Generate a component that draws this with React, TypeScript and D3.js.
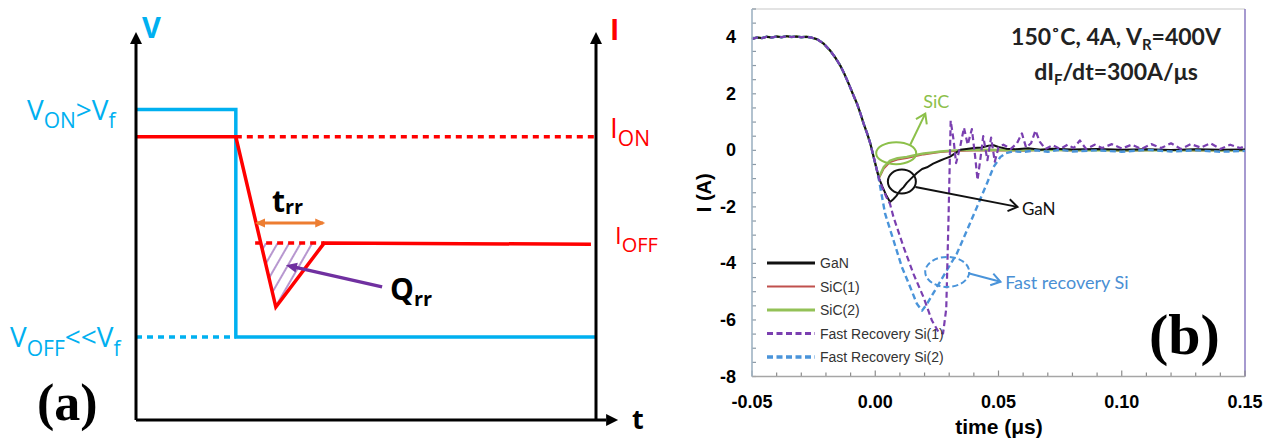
import React from 'react';
import * as d3 from 'd3';

type Pt = [number, number];

// ---------- panel (b): measured waveforms, [time (µs), current (A)] ----------
const commonFall: Pt[] = [
  [-0.05, 3.94], [-0.048, 3.99], [-0.046, 3.97], [-0.044, 4.02], [-0.042, 3.99], [-0.04, 4.03],
  [-0.038, 4.0], [-0.036, 4.04], [-0.034, 4.01], [-0.032, 4.03], [-0.03, 4.0], [-0.028, 4.02],
  [-0.026, 3.99], [-0.0236, 3.93], [-0.021, 3.78], [-0.0183, 3.53], [-0.0162, 3.28], [-0.0142, 3.0],
  [-0.0125, 2.7], [-0.0108, 2.36], [-0.0091, 2.0], [-0.0074, 1.65], [-0.006, 1.3], [-0.0047, 0.94],
  [-0.0033, 0.6], [-0.002, 0.24], [-0.0007, -0.22], [0.0007, -0.71],
];

const ganTail: Pt[] = [
  [0.0015, -0.98], [0.003, -1.3], [0.0045, -1.6], [0.006, -1.83], [0.0072, -1.74], [0.0085, -1.62],
  [0.0101, -1.42], [0.0115, -1.3], [0.0128, -1.15], [0.0145, -1.0], [0.0169, -0.8], [0.019, -0.66],
  [0.021, -0.6], [0.0235, -0.47], [0.0264, -0.36], [0.028, -0.3], [0.0304, -0.22], [0.0325, -0.1],
  [0.0345, 0.02], [0.037, 0.05], [0.04, 0.08], [0.043, 0.1], [0.046, 0.16], [0.048, 0.18],
  [0.05, 0.12], [0.053, 0.06], [0.057, 0.04], [0.062, 0.07], [0.067, 0.02], [0.072, 0.06],
  [0.08, 0.03], [0.09, 0.05], [0.1, 0.02], [0.11, 0.04], [0.12, 0.01], [0.13, 0.04], [0.14, 0.02], [0.15, 0.03],
];

const sic1Tail: Pt[] = [
  [0.0015, -1.0], [0.0035, -0.65], [0.006, -0.42], [0.009, -0.33], [0.0128, -0.28], [0.016, -0.22],
  [0.0196, -0.15], [0.0235, -0.1], [0.0264, -0.07], [0.032, -0.03], [0.04, -0.01], [0.05, 0.0],
  [0.06, -0.02], [0.07, 0.01], [0.08, -0.01], [0.09, 0.01], [0.1, -0.02], [0.11, 0.0], [0.12, 0.01],
  [0.13, -0.01], [0.14, 0.0], [0.15, 0.0],
];

const sic2Tail: Pt[] = [
  [0.0015, -0.95], [0.0035, -0.58], [0.006, -0.36], [0.009, -0.28], [0.0128, -0.23], [0.016, -0.17],
  [0.0196, -0.11], [0.0235, -0.07], [0.0264, -0.04], [0.032, 0.0], [0.04, 0.02], [0.05, 0.01],
  [0.06, 0.0], [0.07, 0.02], [0.08, 0.0], [0.09, 0.01], [0.1, -0.01], [0.11, 0.01], [0.12, 0.0],
  [0.13, 0.01], [0.14, -0.01], [0.15, 0.0],
];

const fr1Tail: Pt[] = [
  [0.0015, -1.0], [0.003, -1.35], [0.0045, -1.65], [0.006, -1.9], [0.0074, -2.36], [0.0115, -3.42],
  [0.0155, -4.37], [0.0196, -5.2], [0.023, -6.02], [0.0257, -6.43], [0.0275, -6.48], [0.0288, -5.6],
  [0.0297, -2.5], [0.0306, 1.05], [0.0318, 0.35], [0.0328, -0.45], [0.0345, 0.15], [0.036, 0.8],
  [0.0375, 0.2], [0.0392, 0.75], [0.0405, -0.2], [0.0415, -1.05], [0.0428, -0.2], [0.0438, 0.5],
  [0.0455, -0.35], [0.047, 0.45], [0.0485, -0.4], [0.05, 0.1], [0.052, 0.2], [0.055, 0.05],
  [0.0575, 0.25], [0.0595, 0.6], [0.0612, 0.1], [0.0632, 0.25], [0.065, 0.7], [0.0668, 0.3],
  [0.069, 0.05], [0.072, 0.18], [0.075, 0.05], [0.078, 0.2], [0.0805, 0.08], [0.083, 0.35],
  [0.0855, 0.05], [0.089, 0.2], [0.092, 0.08], [0.096, 0.22], [0.1, 0.06], [0.104, 0.2],
  [0.108, 0.05], [0.112, 0.22], [0.116, 0.08], [0.12, 0.25], [0.124, 0.05], [0.128, 0.22],
  [0.132, 0.1], [0.136, 0.25], [0.14, 0.05], [0.144, 0.2], [0.148, 0.08], [0.15, 0.15],
];

const fr2Tail: Pt[] = [
  [0.0015, -1.05], [0.004, -2.24], [0.0074, -3.18], [0.0108, -4.13], [0.0142, -4.84], [0.0169, -5.43],
  [0.019, -5.67], [0.021, -5.43], [0.025, -4.84], [0.029, -4.25], [0.0331, -3.65], [0.0372, -2.83],
  [0.0413, -2.0], [0.0453, -1.17], [0.048, -0.59], [0.0507, -0.24], [0.053, -0.1], [0.056, -0.03],
  [0.06, -0.06], [0.065, 0.0], [0.07, -0.05], [0.075, 0.02], [0.08, -0.04], [0.09, 0.0], [0.1, -0.05],
  [0.11, 0.02], [0.12, -0.04], [0.13, 0.0], [0.14, -0.05], [0.15, -0.02],
];

const seriesNames = ['GaN', 'SiC(1)', 'SiC(2)', 'Fast Recovery Si(1)', 'Fast Recovery Si(2)'];
const seriesData: Pt[][] = [
  [...commonFall, ...ganTail],
  [...commonFall, ...sic1Tail],
  [...commonFall, ...sic2Tail],
  [...commonFall, ...fr1Tail],
  [...commonFall, ...fr2Tail],
];
const seriesColors = ['#111111', '#c0504d', '#93c157', '#7a3fb0', '#4a94da'];
const seriesDash = ['', '', '', '6 3.5', '6 3.5'];
const seriesWidth = [2, 1.6, 2.4, 2.2, 2.4];
const legendWidth = [3, 2, 3, 3, 3.5];
const drawOrder = [1, 2, 0, 4, 3];

const yTickValues = [4, 2, 0, -2, -4, -6, -8];
const xTickValues = [-0.05, 0, 0.05, 0.1, 0.15];
const xTickLabels = ['-0.05', '0.00', '0.05', '0.10', '0.15'];

// ---------- panel (a): schematic, [time fraction, level fraction] ----------
const voltageSolid: Pt[] = [[0, 0.8], [0.217, 0.8], [0.217, 0.214], [1, 0.214]];
const voltageDotted: Pt[] = [[0, 0.214], [0.217, 0.214]];
const currentSolid: Pt[] = [[0, 0.73], [0.217, 0.73], [0.304, 0.291], [0.409, 0.456], [0.989, 0.453]];
const currentOnDotted: Pt[] = [[0.217, 0.73], [1, 0.73]];
const currentOffDotted: Pt[] = [[0.259, 0.456], [0.409, 0.456]];
const qrrArea: Pt[] = [[0.272, 0.456], [0.409, 0.456], [0.304, 0.291]];
const trrSpan: Pt[] = [[0.263, 0.508], [0.407, 0.508]];
const qrrPointer: Pt[] = [[0.535, 0.343], [0.345, 0.394]];
const vAxis: Pt[] = [[0, 0], [0, 0.969]];
const iAxis: Pt[] = [[1, 0], [1, 0.969]];
const tAxis: Pt[] = [[0, 0], [1.022, 0]];

const CYAN = '#00b0f0';
const RED = '#ff0000';
const LEFT_FONT = "'Open Sans', sans-serif";
const ANNO_FONT = "Lato, 'Open Sans', sans-serif";
const AXIS_FONT = "'Liberation Sans', Arial, sans-serif";
const SERIF = "'Liberation Serif', 'Times New Roman', serif";

const xA = d3.scaleLinear().domain([0, 1]).range([136, 596]);
const yA = d3.scaleLinear().domain([0, 1]).range([420, 32]);
const lineA = d3.line<Pt>().x(d => xA(d[0])).y(d => yA(d[1]));

const xB = d3.scaleLinear().domain([-0.05, 0.15]).range([752, 1245]);
const yB = d3.scaleLinear().domain([-8, 5]).range([376.5, 9]);
const lineB = d3.line<Pt>().x(d => xB(d[0])).y(d => yB(d[1]));

const PanelA = () => (
  <g>
    <path d={lineA(voltageSolid)!} fill="none" stroke={CYAN} strokeWidth={3.5} />
    <path d={lineA(voltageDotted)!} fill="none" stroke={CYAN} strokeWidth={3.5} strokeDasharray="6 5" />
    <polygon points={qrrArea.map(d => `${xA(d[0])},${yA(d[1])}`).join(' ')} fill="url(#hatch)" />
    <path d={lineA(currentOnDotted)!} fill="none" stroke={RED} strokeWidth={3.5} strokeDasharray="6 5" />
    <path d={lineA(currentOffDotted)!} fill="none" stroke={RED} strokeWidth={3.5} strokeDasharray="6 5" />
    <path d={lineA(currentSolid)!} fill="none" stroke={RED} strokeWidth={3.5} strokeLinejoin="miter" />
    <path d={lineA(trrSpan)!} stroke="#ed7d31" strokeWidth={3} markerStart="url(#orangeHead)" markerEnd="url(#orangeHead)" />
    <path d={lineA(qrrPointer)!} stroke="#7030a0" strokeWidth={3.5} markerEnd="url(#purpleHead)" />
    <path d={lineA(vAxis)!} stroke="#000" strokeWidth={3} markerEnd="url(#blackHead)" />
    <path d={lineA(iAxis)!} stroke="#000" strokeWidth={3} markerEnd="url(#blackHead)" />
    <path d={lineA(tAxis)!} stroke="#000" strokeWidth={3} markerEnd="url(#blackHead)" />

    <g fontFamily={LEFT_FONT}>
      <text x={142} y={38} fontSize={29} fontWeight="bold" fill={CYAN}>V</text>
      <text x={610} y={40} fontSize={28} fontWeight="bold" fill={RED}>I</text>
      <text x={632} y={429} fontSize={27} fontWeight="bold" fill="#000">t</text>
      <text x={27} y={119.5} fontSize={28} fill={CYAN}>
        V<tspan fontSize={21} dy={8.5}>ON</tspan><tspan dy={-8.5}>&gt;V</tspan><tspan fontSize={21} dy={8.5}>f</tspan>
      </text>
      <text x={10} y={347} fontSize={28} fill={CYAN}>
        V<tspan fontSize={21} dy={9}>OFF</tspan><tspan dy={-9}>&lt;&lt;V</tspan><tspan fontSize={21} dy={9}>f</tspan>
      </text>
      <text x={610} y={138} fontSize={28} fill={RED}>
        I<tspan fontSize={21} dy={8}>ON</tspan>
      </text>
      <text x={615} y={244} fontSize={24} fill={RED}>
        I<tspan fontSize={20} dy={8}>OFF</tspan>
      </text>
      <text x={272} y={212} fontSize={30} fontWeight="bold" fill="#000">
        t<tspan fontSize={20} dy={2}>rr</tspan>
      </text>
      <text x={390} y={300} fontSize={30} fontWeight="bold" fill="#000">
        Q<tspan fontSize={20} dy={6}>rr</tspan>
      </text>
    </g>
    <text x={37} y={420} fontFamily={SERIF} fontSize={52} fontWeight="bold">(a)</text>
  </g>
);

const Chevron = ({ from, to, color }: { from: [number, number]; to: [number, number]; color: string }) => (
  <line x1={from[0]} y1={from[1]} x2={to[0]} y2={to[1]} stroke={color} strokeWidth={2} markerEnd={`url(#chev-${color.slice(1)})`} />
);

const PanelB = () => {
  const y0 = yB(-8);
  const xMinor = d3.range(0, 21).map(i => -0.05 + i * 0.01);
  const yMinor = d3.range(0, 27).map(i => -8 + i * 0.5);
  return (
    <g>
      {/* frame */}
      <line x1={xB(-0.05)} x2={xB(0.15)} y1={yB(5)} y2={yB(5)} stroke="#c8c8c8" strokeWidth={1.2} />
      <line x1={xB(0.15)} x2={xB(0.15)} y1={yB(5)} y2={y0} stroke="#8878c0" strokeWidth={1.5} />
      {xMinor.map((t, i) => (
        <line key={'xt' + i} x1={xB(t)} x2={xB(t)} y1={y0} y2={y0 - (i % 5 === 0 ? 6 : 4)} stroke="#8c8c8c" strokeWidth={1.2} />
      ))}
      {yMinor.map((v, i) => (
        <line key={'yt' + i} x1={xB(-0.05)} x2={xB(-0.05) + 4} y1={yB(v)} y2={yB(v)} stroke="#8c9aa6" strokeWidth={1.2} />
      ))}

      {/* waveforms */}
      {drawOrder.map(k => (
        <path key={'s' + k} d={lineB(seriesData[k])!} fill="none" stroke={seriesColors[k]}
          strokeWidth={seriesWidth[k]} strokeDasharray={seriesDash[k] || undefined} strokeLinejoin="round" />
      ))}

      <line x1={xB(-0.05)} x2={xB(0.15)} y1={y0} y2={y0} stroke="#a6a6a6" strokeWidth={1.5} />
      <line x1={xB(-0.05)} x2={xB(-0.05)} y1={yB(5)} y2={y0} stroke="#9fb3c3" strokeWidth={1.6} />

      {/* tick labels */}
      <g fontFamily={AXIS_FONT} fontWeight="bold" fontSize={18} fill="#000">
        {yTickValues.map(v => (
          <text key={'yl' + v} x={736} y={yB(v)} textAnchor="end" dominantBaseline="central">{v}</text>
        ))}
        {xTickValues.map((t, i) => (
          <text key={'xl' + i} x={xB(t)} y={408} textAnchor="middle">{xTickLabels[i]}</text>
        ))}
        <text x={999} y={434} textAnchor="middle" fontSize={21}>time (μs)</text>
        <text transform={`translate(711,${yB(-1.5)}) rotate(-90)`} textAnchor="middle" fontSize={20}>I (A)</text>
      </g>

      {/* legend */}
      <g fontFamily={AXIS_FONT} fontSize={14} fill="#333">
        {seriesNames.map((name, i) => {
          const ly = 263 + i * 23.5;
          return (
            <g key={'lg' + i}>
              <line x1={767} x2={815} y1={ly} y2={ly} stroke={seriesColors[i]} strokeWidth={legendWidth[i]}
                strokeDasharray={seriesDash[i] || undefined} />
              <text x={820} y={ly} dominantBaseline="central">{name}</text>
            </g>
          );
        })}
      </g>

      {/* annotations */}
      <ellipse cx={xB(0.0085)} cy={yB(-0.1)} rx={20} ry={11} fill="none" stroke="#8cc04a" strokeWidth={2} />
      <Chevron from={[xB(0.0142), yB(0.2)]} to={[xB(0.0203), yB(1.3)]} color="#8cc04a" />
      <text x={xB(0.0195)} y={yB(1.5)} fontFamily={ANNO_FONT} fontSize={18} fill="#8cc04a">SiC</text>

      <ellipse cx={xB(0.0108)} cy={yB(-1.1)} rx={14} ry={12} fill="none" stroke="#111" strokeWidth={2} />
      <Chevron from={[xB(0.0163), yB(-1.3)]} to={[xB(0.0577), yB(-2.0)]} color="#111111" />
      <text x={xB(0.0595)} y={yB(-2.07)} fontFamily={ANNO_FONT} fontSize={17} fill="#111" dominantBaseline="central">GaN</text>

      <ellipse cx={xB(0.0292)} cy={yB(-4.3)} rx={22} ry={15} fill="none" stroke="#4a94da" strokeWidth={2} strokeDasharray="6 3" />
      <Chevron from={[xB(0.0378), yB(-4.35)]} to={[xB(0.0508), yB(-4.65)]} color="#4a94da" />
      <text x={xB(0.0527)} y={yB(-4.65)} fontFamily={ANNO_FONT} fontSize={18} fill="#4a8fd4" dominantBaseline="central">Fast recovery Si</text>

      <g fontFamily={ANNO_FONT} fontWeight="bold" fontSize={23} fill="#222" textAnchor="middle">
        <text x={1116} y={45}>
          150˚C, 4A, V<tspan fontSize={15} dy={5}>R</tspan><tspan dy={-5}>=400V</tspan>
        </text>
        <text x={1116} y={80}>
          dI<tspan fontSize={15} dy={5}>F</tspan><tspan dy={-5}>/dt=300A/μs</tspan>
        </text>
      </g>

      <text x={1149} y={354} fontFamily={SERIF} fontSize={58} fontWeight="bold">(b)</text>
    </g>
  );
};

export default function App() {
  const chevColors = ['8cc04a', '111111', '4a94da'];
  return (
    <div style={{ position: 'absolute', left: 0, top: 0 }}>
      <svg width={1271} height={438} viewBox="0 0 1271 438" style={{ display: 'block', background: '#fff' }}>
        <defs>
          <marker id="blackHead" markerUnits="userSpaceOnUse" markerWidth={14} markerHeight={14} refX={0} refY={0}
            orient="auto" overflow="visible">
            <path d="M0,-6 L12,0 L0,6 Z" fill="#000" />
          </marker>
          <marker id="orangeHead" markerUnits="userSpaceOnUse" markerWidth={12} markerHeight={12} refX={8} refY={0}
            orient="auto-start-reverse" overflow="visible">
            <path d="M0,-4.5 L10,0 L0,4.5 Z" fill="#ed7d31" />
          </marker>
          <marker id="purpleHead" markerUnits="userSpaceOnUse" markerWidth={12} markerHeight={12} refX={2} refY={0}
            orient="auto" overflow="visible">
            <path d="M0,-5 L11,0 L0,5 Z" fill="#7030a0" />
          </marker>
          {chevColors.map(c => (
            <marker key={c} id={`chev-${c}`} markerUnits="userSpaceOnUse" markerWidth={12} markerHeight={12}
              refX={0} refY={0} orient="auto" overflow="visible">
              <path d="M-9,-6 L0,0 L-9,6" fill="none" stroke={`#${c}`} strokeWidth={2} />
            </marker>
          ))}
          <pattern id="hatch" patternUnits="userSpaceOnUse" width={10} height={10} patternTransform="rotate(30)">
            <line x1={2} y1={0} x2={2} y2={10} stroke="#7030a0" strokeWidth={1} />
          </pattern>
        </defs>
        <PanelA />
        <PanelB />
      </svg>
    </div>
  );
}
